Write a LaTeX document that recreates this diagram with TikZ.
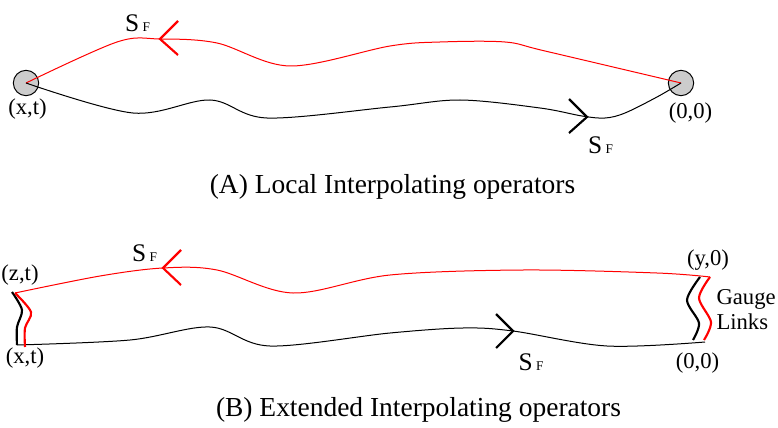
\documentclass[tikz,border=0pt]{standalone}
\usepackage{fontspec}
\setmainfont{Liberation Serif}
\tikzset{every picture/.style={line width=0.75pt}}
\tikzset{
  vertex/.style={circle,draw,fill={rgb, 255:red, 204; green, 204; blue, 204 },minimum size=19pt,inner sep=0pt},
  chev/.style={line width=1.6pt},
  link/.style={line width=1.6pt},
  lbl/.style={font=\fontsize{17}{18.75}\selectfont,inner sep=0pt},
  capt/.style={font=\fontsize{20.6}{24}\selectfont,inner sep=0pt}
}
\newcommand{\SFlabel}{{\fontsize{19}{20}\selectfont S}\hspace{2.5pt}{\fontsize{10}{12}\selectfont F}}

\begin{document}
\begin{tikzpicture}[x=0.75pt,y=0.75pt,yscale=-1,xscale=1]
  \useasboundingbox (0,0) rectangle (778,428);

  % (A) local operators
  \node [vertex] (xtA) at (26,83) {};
  \node [vertex] (ooA) at (681,83) {};
  \draw [red] plot [smooth,tension=0.55] coordinates {(ooA.center) (545,51) (505,42) (440,42) (390,46) (290,66) (217,43) (160,39) (117,42) (xtA.center)};
  \draw    plot [smooth,tension=0.55] coordinates {(xtA.center) (133,113) (210,100) (267,118) (390,107) (460,100) (540,108) (582,116) (605,118) (625,113) (657,97) (ooA.center)};

  \coordinate (arA1) at (160,39);
  \coordinate (arA2) at (587,117);
  \draw [red,chev] (arA1) ++(18,-18) -- (arA1) -- ++(18,16) ;
  \draw [chev] (arA2) ++(-18,-18) -- (arA2) -- ++(-18,16) ;

  \draw (137.5,23) node [lbl] (sfA1) {\SFlabel};
  \draw (600.5,145.5) node [lbl] (sfA2) {\SFlabel};
  \draw (27.5,109.5) node [lbl] (lxtA) {(x,t)};
  \draw (690.5,113.5) node [lbl] (looA) {(0,0)};
  \draw (392.5,186.5) node [capt] (captA) {(A) Local Interpolating operators};

  % (B) extended operators
  \coordinate (zt) at (15,293);
  \coordinate (xt) at (17,345);
  \coordinate (y0) at (710,277);
  \coordinate (o0) at (705,342);
  \coordinate (zbk) at (12,292);
  \coordinate (xrd) at (25,347);
  \coordinate (ybk) at (700,277);
  \coordinate (obk) at (693,340);
  \coordinate (ord) at (704,340);

  \draw [red] plot [smooth,tension=0.55] coordinates {(y0) (657,273) (523,270) (390,275) (293,293) (217,270) (163,268) (100,276) (zt)};
  \draw    plot [smooth,tension=0.55] coordinates {(xt) (130,340) (210,327) (270,346) (390,333) (463,328) (513,331) (607,346) (o0)};

  % gauge links
  \draw [link] plot [smooth] coordinates {(zbk) (22,310) (17,327) (xt)};
  \draw [red,link] plot [smooth] coordinates {(zt) (31,312) (25,328) (xrd)};
  \draw [link] plot [smooth] coordinates {(ybk) (687,300) (699,323) (obk)};
  \draw [red,link] plot [smooth] coordinates {(y0) (699,298) (711,322) (ord)};

  \coordinate (arB1) at (163,268);
  \coordinate (arB2) at (513,331);
  \draw [red,chev] (arB1) ++(18,-18) -- (arB1) -- ++(18,17) ;
  \draw [chev] (arB2) ++(-17,-17) -- (arB2) -- ++(-17,17) ;

  \draw (144.5,253) node [lbl] (sfB1) {\SFlabel};
  \draw (531,362.5) node [lbl] (sfB2) {\SFlabel};
  \draw (20,275) node [lbl] (lzt) {(z,t)};
  \draw (25,358) node [lbl] (lxt) {(x,t)};
  \draw (708,260) node [lbl] (ly0) {(y,0)};
  \draw (697.5,363.5) node [lbl] (lo0) {(0,0)};
  \draw (716,310) node [lbl,anchor=west,align=left] (lgauge) {Gauge\\Links};
  \draw (418.5,410) node [capt] (captB) {(B) Extended Interpolating operators};

\end{tikzpicture}
\end{document}
